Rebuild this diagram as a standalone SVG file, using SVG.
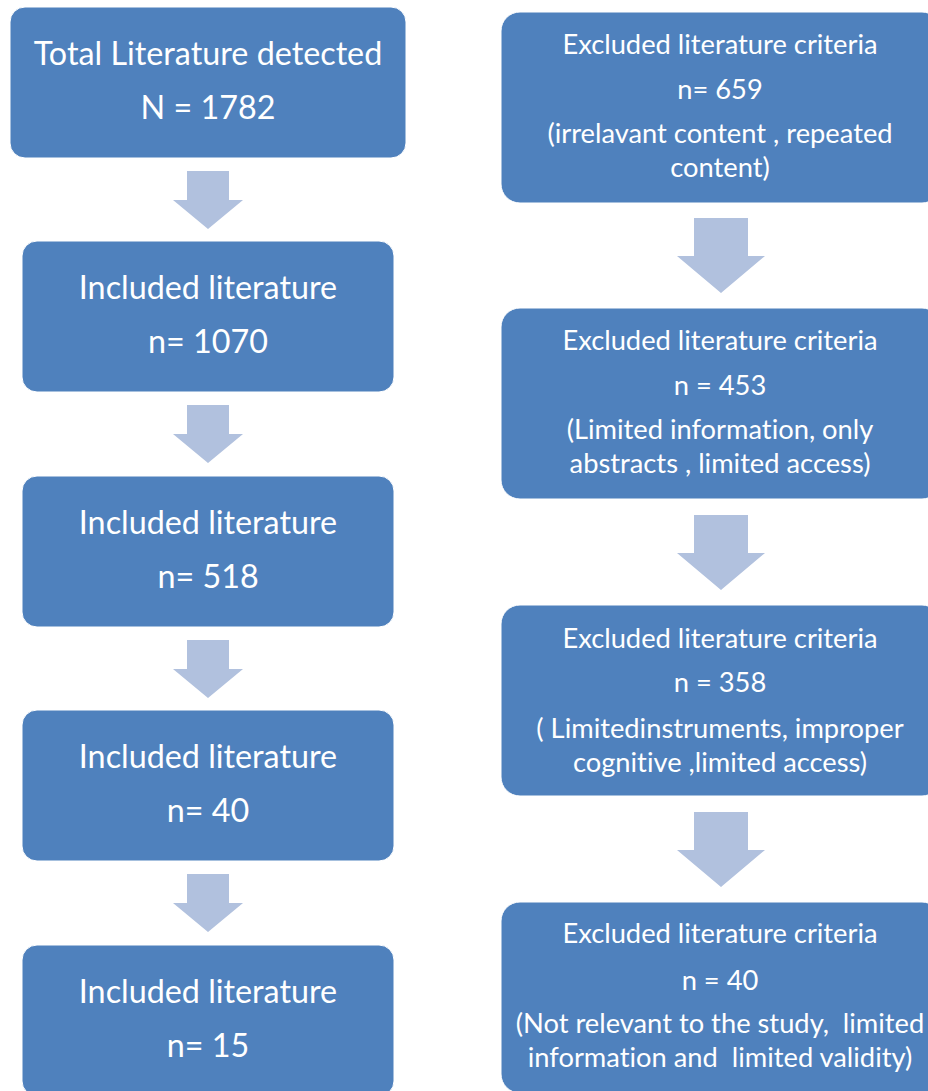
<svg xmlns="http://www.w3.org/2000/svg" xmlns:xlink="http://www.w3.org/1999/xlink" width="928" height="1091" viewBox="0 0 928 1091">
<style>
.box{fill:#4F81BD;stroke:#FFFFFF;stroke-width:1}
.arr{fill:#B1C1DE}
text{font-family:Lato,"Liberation Sans",sans-serif;fill:#FFFFFF;text-anchor:middle;white-space:pre;font-variant-ligatures:none}
.l{font-size:32.3px}
.r{font-size:27.3px}
</style>
<defs>
<path id="la" d="M-21,0 H21 V29 H35 L0,58 L-35,29 H-21 Z"/>
<path id="ra" d="M-27,0 H27 V38 H44 L0,75 L-44,38 H-27 Z"/>
</defs>
<rect width="928" height="1091" fill="#FFFFFF"/>
<g id="connectors" class="arr">
<use xlink:href="#la" x="208" y="171"/>
<use xlink:href="#la" x="208" y="405"/>
<use xlink:href="#la" x="208" y="640"/>
<use xlink:href="#la" x="208" y="874"/>
<use xlink:href="#ra" x="721" y="218"/>
<use xlink:href="#ra" x="721" y="515"/>
<use xlink:href="#ra" x="721" y="812"/>
</g>
<g id="n1"><rect class="box" x="10" y="7" width="396" height="151" rx="15"/>
<text class="l" x="208" y="65">Total Literature detected</text>
<text class="l" x="208" y="119">N = 1782</text></g>
<g id="n2"><rect class="box" x="22" y="241" width="372" height="151" rx="15"/>
<text class="l" x="208" y="299">Included literature</text>
<text class="l" x="208" y="353">n= 1070</text></g>
<g id="n3"><rect class="box" x="22" y="476" width="372" height="151" rx="15"/>
<text class="l" x="208" y="534">Included literature</text>
<text class="l" x="208" y="588">n= 518</text></g>
<g id="n4"><rect class="box" x="22" y="710" width="372" height="151" rx="15"/>
<text class="l" x="208" y="768">Included literature</text>
<text class="l" x="208" y="822">n= 40</text></g>
<g id="n5"><rect class="box" x="22" y="945" width="372" height="151" rx="15"/>
<text class="l" x="208" y="1003">Included literature</text>
<text class="l" x="208" y="1057">n= 15</text></g>
<g id="r1"><rect class="box" x="501" y="12" width="440" height="191" rx="19"/>
<text class="r" x="720" y="54">Excluded literature criteria</text>
<text class="r" x="720" y="99">n= 659</text>
<text class="r" x="720" y="143">(irrelavant content , repeated</text>
<text class="r" x="720" y="177">content)</text></g>
<g id="r2"><rect class="box" x="501" y="308" width="440" height="191" rx="19"/>
<text class="r" x="720" y="350">Excluded literature criteria</text>
<text class="r" x="720" y="395">n = 453</text>
<text class="r" x="720" y="439">(Limited information, only</text>
<text class="r" x="720" y="473">abstracts , limited access)</text></g>
<g id="r3"><rect class="box" x="501" y="605" width="440" height="191" rx="19"/>
<text class="r" x="720" y="648">Excluded literature criteria</text>
<text class="r" x="720" y="692">n = 358</text>
<text class="r" x="720" y="738">( Limitedinstruments, improper</text>
<text class="r" x="720" y="772">cognitive ,limited access)</text></g>
<g id="r4"><rect class="box" x="501" y="902" width="440" height="191" rx="19"/>
<text class="r" x="720" y="943">Excluded literature criteria</text>
<text class="r" x="720" y="990">n = 40</text>
<text class="r" x="720" y="1033">(Not relevant to the study,  limited</text>
<text class="r" x="720" y="1067">information and  limited validity)</text></g>
</svg>
